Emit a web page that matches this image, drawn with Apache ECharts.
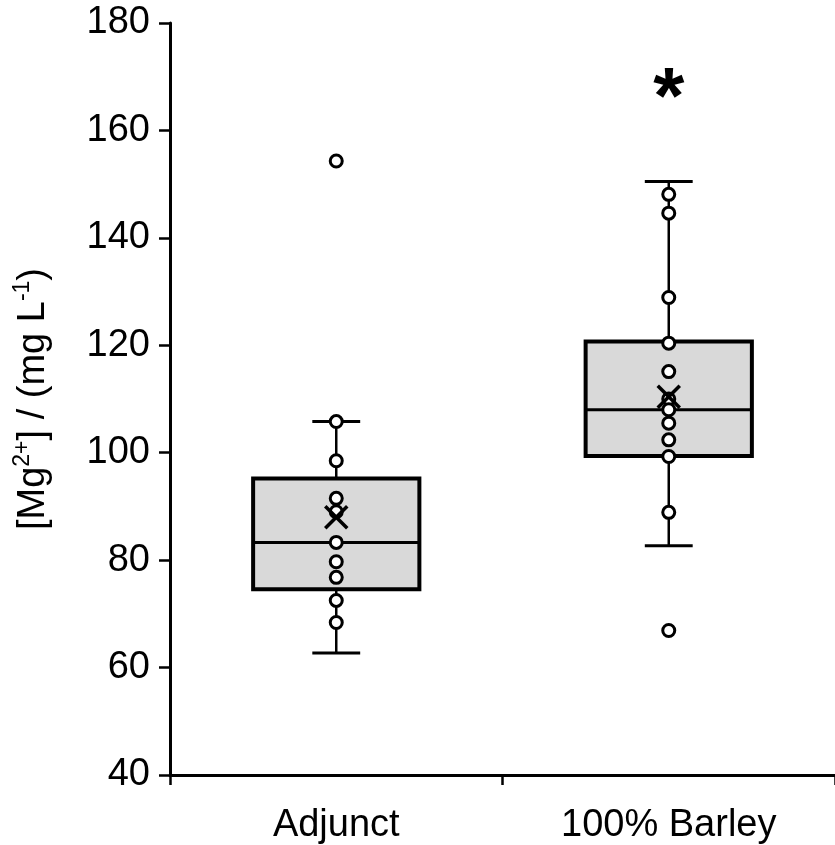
<!DOCTYPE html>
<html>
<head>
<meta charset="utf-8">
<script src="https://cdn.jsdelivr.net/npm/echarts@6/dist/echarts.min.js"></script>
<style>
html,body{margin:0;padding:0;background:#fff;}
#chart{width:835px;height:845px;}
</style>
</head>
<body>
<div id="chart"></div>
<script>
// ---- data ----
const categories = ['Adjunct', '100% Barley'];
const yTicks = [40, 60, 80, 100, 120, 140, 160, 180];
const whiskerLow  = [62.7, 82.7];
const q1          = [74.6, 99.4];
const median      = [83.3, 108.0];
const q3          = [95.2, 120.7];
const whiskerHigh = [105.8, 150.5];
const mean        = [88.0, 110.4];
const adjunctPoints = [105.8, 98.5, 91.5, 89.0, 83.3, 79.7, 76.8, 72.5, 68.4, 154.3];
const barleyPoints  = [148.1, 144.6, 128.9, 120.4, 115.1, 110.0, 108.0, 105.5, 102.4, 99.3, 88.9, 66.9];
const sigCategory = [1];
const sigValue = [168.5];
const sigText = ['*'];

const FONT = "'Liberation Sans', Arial, Helvetica, sans-serif";

const boxData = categories.map((c, i) => [i, whiskerLow[i], q1[i], median[i], q3[i], whiskerHigh[i]]);
const meanData = categories.map((c, i) => [i, mean[i]]);
const pointData = adjunctPoints.map(v => [0, v]).concat(barleyPoints.map(v => [1, v]));
const sigData = sigCategory.map((c, i) => [c, sigValue[i]]);

const chart = echarts.init(document.getElementById('chart'));

function renderBox(params, api) {
  const idx = api.value(0);
  const band = api.size([1, 0])[0];
  const half = band * 0.25;
  const capHalf = band * 0.072;
  const pLow = api.coord([idx, api.value(1)]);
  const pQ1 = api.coord([idx, api.value(2)]);
  const pMed = api.coord([idx, api.value(3)]);
  const pQ3 = api.coord([idx, api.value(4)]);
  const pHigh = api.coord([idx, api.value(5)]);
  const x = pMed[0];
  const lineStyle = {stroke: '#000', lineWidth: 2.5, fill: null};
  return {
    type: 'group',
    children: [
      {type: 'line', shape: {x1: x, y1: pLow[1], x2: x, y2: pQ1[1]}, style: lineStyle},
      {type: 'line', shape: {x1: x, y1: pQ3[1], x2: x, y2: pHigh[1]}, style: lineStyle},
      {type: 'line', shape: {x1: x - capHalf, y1: pLow[1], x2: x + capHalf, y2: pLow[1]}, style: {stroke: '#000', lineWidth: 3}},
      {type: 'line', shape: {x1: x - capHalf, y1: pHigh[1], x2: x + capHalf, y2: pHigh[1]}, style: {stroke: '#000', lineWidth: 3}},
      {type: 'rect', shape: {x: x - half, y: pQ3[1], width: half * 2, height: pQ1[1] - pQ3[1]},
        style: {fill: '#d9d9d9', stroke: '#000', lineWidth: 4}},
      {type: 'line', shape: {x1: x - half, y1: pMed[1], x2: x + half, y2: pMed[1]}, style: {stroke: '#000', lineWidth: 3}}
    ]
  };
}

function renderMean(params, api) {
  const p = api.coord([api.value(0), api.value(1)]);
  const r = 11;
  const st = {stroke: '#000', lineWidth: 3.5};
  return {
    type: 'group',
    children: [
      {type: 'line', shape: {x1: p[0] - r, y1: p[1] - r, x2: p[0] + r, y2: p[1] + r}, style: st},
      {type: 'line', shape: {x1: p[0] - r, y1: p[1] + r, x2: p[0] + r, y2: p[1] - r}, style: st}
    ]
  };
}

function renderSig(params, api) {
  const p = api.coord([api.value(0), api.value(1)]);
  return {
    type: 'text',
    x: p[0],
    y: p[1] + 16,
    style: {
      text: sigText[params.dataIndex],
      fontSize: 80,
      fontWeight: 'bold',
      fontFamily: FONT,
      fill: '#000',
      align: 'center',
      verticalAlign: 'middle'
    }
  };
}

chart.setOption({
  animation: false,
  backgroundColor: '#fff',
  grid: {left: 170, right: -2, top: 23, bottom: 70, containLabel: false},
  xAxis: {
    type: 'category',
    data: categories,
    boundaryGap: true,
    axisLine: {lineStyle: {color: '#000', width: 3}},
    axisTick: {show: true, length: 10, lineStyle: {color: '#000', width: 2.5}},
    axisLabel: {color: '#000', fontSize: 38, fontFamily: FONT, margin: 32},
    splitLine: {show: false}
  },
  yAxis: {
    type: 'value',
    min: 40, max: 180, interval: 20,
    axisLine: {show: true, lineStyle: {color: '#000', width: 3}},
    axisTick: {show: true, length: 11, lineStyle: {color: '#000', width: 2.5}},
    axisLabel: {color: '#000', fontSize: 38, fontFamily: FONT, margin: 20,
      formatter: v => yTicks.indexOf(v) >= 0 ? String(v) : ''},
    splitLine: {show: false},
    name: '{a|[Mg}{s|2+}{a|] / (mg L}{s|-1}{a|)}',
    nameLocation: 'middle',
    nameRotate: 90,
    nameGap: 117,
    nameTextStyle: {
      color: '#000',
      fontFamily: FONT,
      rich: {
        a: {fontSize: 38, fontFamily: FONT, color: '#000', lineHeight: 44, verticalAlign: 'bottom'},
        s: {fontSize: 23, fontFamily: FONT, color: '#000', lineHeight: 44, verticalAlign: 'top', padding: [2, 0, 0, 0]}
      }
    }
  },
  series: [
    {
      type: 'custom',
      renderItem: renderBox,
      data: boxData,
      encode: {x: 0, y: [1, 2, 3, 4, 5]},
      z: 2
    },
    {
      type: 'scatter',
      data: pointData,
      symbol: 'circle',
      symbolSize: 12,
      itemStyle: {color: '#fff', borderColor: '#000', borderWidth: 3, opacity: 1},
      z: 3
    },
    {
      type: 'custom',
      renderItem: renderMean,
      data: meanData,
      encode: {x: 0, y: 1},
      z: 4
    },
    {
      type: 'custom',
      renderItem: renderSig,
      data: sigData,
      encode: {x: 0, y: 1},
      z: 5
    }
  ]
});
</script>
</body>
</html>
